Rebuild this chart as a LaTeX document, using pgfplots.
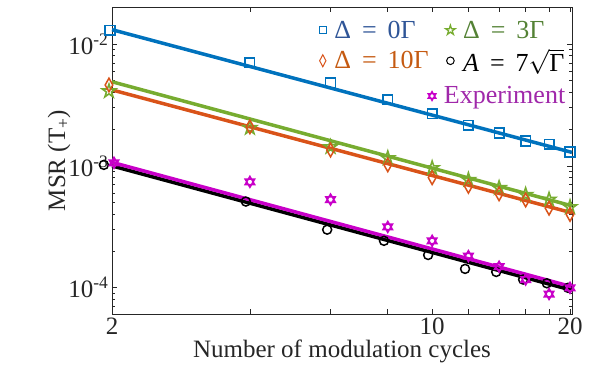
\documentclass[border=0pt]{standalone}
\usepackage{pgfplots}
\pgfplotsset{compat=1.18}
\usepackage{fontspec}
\setmainfont{Liberation Serif}
\definecolor{cblue}{RGB}{0,114,189}
\definecolor{corange}{RGB}{217,83,25}
\definecolor{cgreen}{RGB}{119,172,48}
\definecolor{cmag}{RGB}{200,0,200}
\definecolor{tblue}{RGB}{47,85,151}
\definecolor{torange}{RGB}{197,90,17}
\definecolor{tgreen}{RGB}{84,130,53}
\definecolor{tmag}{RGB}{160,40,170}
\definecolor{axgray}{RGB}{38,38,38}
\pgfdeclareplotmark{pentagram}{%
  \pgfpathmoveto{\pgfqpoint{0pt}{\pgfplotmarksize}}%
  \pgfpathlineto{\pgfqpoint{-0.2245\pgfplotmarksize}{0.309\pgfplotmarksize}}%
  \pgfpathlineto{\pgfqpoint{-0.951\pgfplotmarksize}{0.309\pgfplotmarksize}}%
  \pgfpathlineto{\pgfqpoint{-0.363\pgfplotmarksize}{-0.118\pgfplotmarksize}}%
  \pgfpathlineto{\pgfqpoint{-0.588\pgfplotmarksize}{-0.809\pgfplotmarksize}}%
  \pgfpathlineto{\pgfqpoint{0pt}{-0.382\pgfplotmarksize}}%
  \pgfpathlineto{\pgfqpoint{0.588\pgfplotmarksize}{-0.809\pgfplotmarksize}}%
  \pgfpathlineto{\pgfqpoint{0.363\pgfplotmarksize}{-0.118\pgfplotmarksize}}%
  \pgfpathlineto{\pgfqpoint{0.951\pgfplotmarksize}{0.309\pgfplotmarksize}}%
  \pgfpathlineto{\pgfqpoint{0.2245\pgfplotmarksize}{0.309\pgfplotmarksize}}%
  \pgfpathclose\pgfusepathqstroke}
\pgfdeclareplotmark{hexagram}{%
  \pgfpathmoveto{\pgfqpoint{0pt}{\pgfplotmarksize}}%
  \pgfpathlineto{\pgfqpoint{-0.866\pgfplotmarksize}{-0.5\pgfplotmarksize}}%
  \pgfpathlineto{\pgfqpoint{0.866\pgfplotmarksize}{-0.5\pgfplotmarksize}}%
  \pgfpathclose
  \pgfpathmoveto{\pgfqpoint{0pt}{-\pgfplotmarksize}}%
  \pgfpathlineto{\pgfqpoint{0.866\pgfplotmarksize}{0.5\pgfplotmarksize}}%
  \pgfpathlineto{\pgfqpoint{-0.866\pgfplotmarksize}{0.5\pgfplotmarksize}}%
  \pgfpathclose\pgfusepathqstroke}
\newcommand{\eqs}{\hspace{0.42em}=\hspace{0.42em}}
\newcommand{\lgap}{\hspace{6pt}}
\pgfplotsset{
  mylegend/.style={
    legend style={draw=none, fill=none, inner sep=0pt,
      font=\fontsize{26}{30}\selectfont, row sep=5pt,
      /tikz/every even column/.append style={column sep=15pt},
      legend cell align=left}},
  limg/.style={legend image code/.code={\draw[##1] plot coordinates {(0.12cm,0cm)};}},
}
\begin{document}
\begin{tikzpicture}
\begin{axis}[
  at={(0,0)}, anchor=south west,
  scale only axis, width=460pt, height=307pt,
  clip=false,
  xmode=log, ymode=log,
  xmin=2, xmax=20.2, ymin=6.1e-5, ymax=0.0201,
  xtick={2,4,6,8,10,12,14,16,18,20},
  xticklabels={2,,,,10,,,,,20},
  ytick={1e-4,1e-3,1e-2},
  yticklabels={10\textsuperscript{-4},10\textsuperscript{-3},10\textsuperscript{-2}},
  minor ytick={7e-5,8e-5,9e-5,2e-4,3e-4,4e-4,5e-4,6e-4,7e-4,8e-4,9e-4,2e-3,3e-3,4e-3,5e-3,6e-3,7e-3,8e-3,9e-3,2e-2},
  tick align=inside,
  major tick length=5pt, minor tick length=3pt,
  axis line style={draw=axgray, line width=0.8pt},
  every tick/.style={axgray, line width=0.7pt},
  tick label style={font=\fontsize{25}{30}\selectfont, text=axgray},
  label style={font=\fontsize{25}{30}\selectfont, text=axgray},
  xlabel={Number of modulation cycles},
  ylabel={MSR (T\textsubscript{+})},
  xlabel style={yshift=1pt},
  ylabel style={yshift=-9pt},
  mylegend,
  legend columns=2,
  legend style={at={(rel axis cs:0.45,0.962)}, anchor=north west},
]
% fitted lines and data
\addplot[cblue, line width=3.5pt, forget plot] coordinates {(2,0.0131) (20.2,0.00129)};
\addplot[only marks, mark=square, mark size=4.8pt, cblue, mark options={line width=1.5pt}, forget plot]
 coordinates {(1.98,0.0130) (4,0.0070) (6,0.0048) (8,0.0035) (10,0.00268) (12,0.00215) (14,0.00186) (16,0.0016) (18,0.00151) (20,0.0013)};
\addplot[corange, line width=3.5pt, forget plot] coordinates {(2,0.0042) (20.2,0.000412)};
\addplot[cgreen, line width=3.5pt, forget plot] coordinates {(2,0.0049) (20.2,0.00047)};
\addplot[only marks, mark=pentagram, mark size=7pt, cgreen, mark options={line width=1.6pt}, forget plot]
 coordinates {(1.97,0.0041) (4,0.00205) (6,0.00143) (8,0.00116) (10,0.00096) (12,0.00077) (14,0.00066) (16,0.00058) (18,0.00053) (20,0.00046)};
\addplot[only marks, mark=diamond, mark size=6.8pt, corange, mark options={line width=1.5pt, xscale=0.75}, forget plot]
 coordinates {(1.97,0.00461) (4,0.00209) (6,0.00135) (8,0.00102) (10,0.00080) (12,0.00068) (14,0.00059) (16,0.000525) (18,0.00045) (20,0.00040)};
\addplot[black, line width=3.5pt, forget plot] coordinates {(2,0.00100) (20.2,0.0000955)};
\addplot[only marks, mark=o, mark size=4.5pt, black, mark options={line width=1.5pt}, forget plot]
 coordinates {(1.92,0.00102) (3.92,0.00051) (5.9,0.000300) (7.85,0.000243) (9.8,0.000186) (11.8,0.000143) (13.8,0.000135) (15.8,0.000117) (17.8,0.000109) (19.8,0.000100)};
\addplot[cmag, line width=3.5pt, forget plot] coordinates {(2,0.00107) (20.2,0.000102)};
\addplot[only marks, mark=hexagram, mark size=5.5pt, cmag, mark options={line width=1.5pt}, forget plot]
 coordinates {(2.02,0.00106) (4,0.00074) (6,0.00053) (8,0.000316) (10,0.000243) (12,0.000182) (14,0.000149) (16,0.000117) (18,0.000089) (20,0.000100)};
% legend
\addlegendimage{only marks, mark=square, mark size=3.6pt, cblue, mark options={line width=0.8pt}, limg}
\addlegendentry{\lgap\textcolor{tblue}{Δ\eqs0Γ}}
\addlegendimage{only marks, mark=pentagram, mark size=5pt, cgreen, mark options={line width=1.3pt}, limg}
\addlegendentry{\lgap\textcolor{tgreen}{Δ\eqs3Γ}}
\addlegendimage{only marks, mark=diamond, mark size=6pt, corange, mark options={line width=1pt, xscale=0.7}, limg}
\addlegendentry{\lgap\textcolor{torange}{Δ\eqs10Γ}}
\addlegendimage{only marks, mark=o, mark size=3.8pt, black, mark options={line width=1pt}, limg}
\addlegendentry{\lgap\textit{A}\eqs7$\sqrt{\hbox{Γ}}$}
\end{axis}
\begin{axis}[
  at={(0,0)}, anchor=south west,
  scale only axis, width=460pt, height=307pt,
  hide axis, xmin=0, xmax=1, ymin=0, ymax=1,
  mylegend,
  legend style={at={(rel axis cs:0.99,0.71)}, anchor=east},
]
\addlegendimage{only marks, mark=hexagram, mark size=4.5pt, cmag, mark options={line width=1.3pt}, limg}
\addlegendentry{\lgap\textcolor{tmag}{Experiment}}
\end{axis}
\pgfresetboundingbox
\path[use as bounding box] (-112pt,-54pt) rectangle (493pt,314pt);
\end{tikzpicture}
\end{document}
